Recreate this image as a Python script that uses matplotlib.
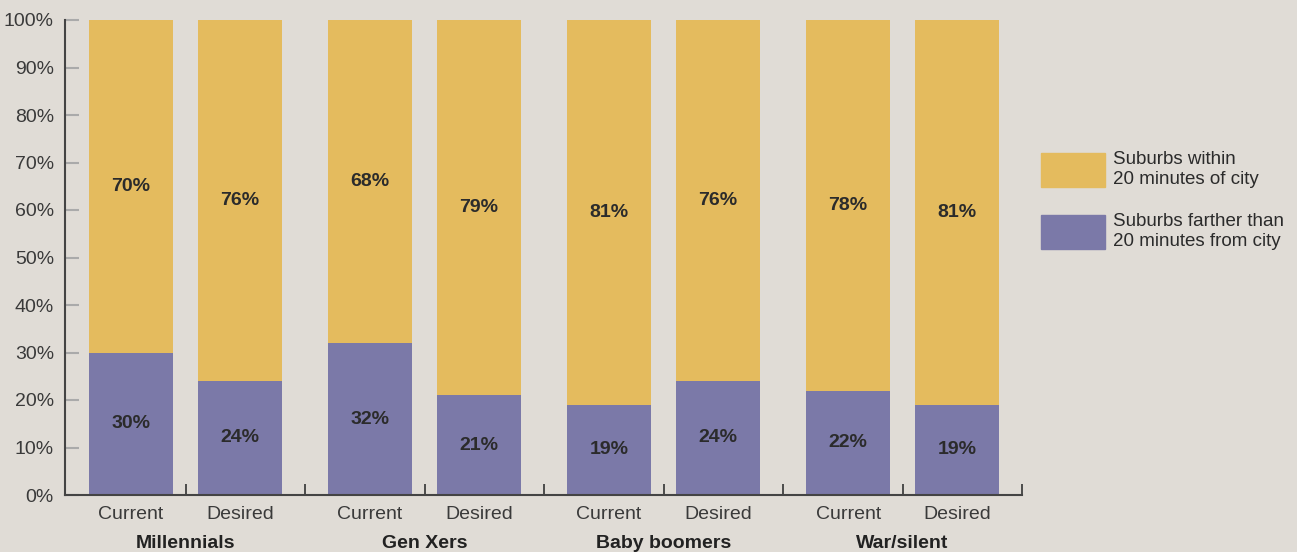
import matplotlib.pyplot as plt
from matplotlib.patches import Patch
import numpy as np

groups = ['Millennials', 'Gen Xers', 'Baby boomers', 'War/silent']
kinds = ['Current', 'Desired']
farther = [30, 24, 32, 21, 19, 24, 22, 19]
within = [70, 76, 68, 79, 81, 76, 78, 81]
legend_labels = ['Suburbs within\n20 minutes of city', 'Suburbs farther than\n20 minutes from city']

BG = '#e0dcd6'
GOLD = '#e4bb5e'
PURPLE = '#7b79a8'
TXT = '#2b2b2b'
sans = ['Liberation Sans', 'DejaVu Sans']

fig = plt.figure(figsize=(12.97, 5.52), dpi=100, facecolor=BG)
ax = fig.add_axes([65/1297, 57/552, (1022-65)/1297, 475/552])
ax.set_facecolor(BG)

gap = 2.193
x = []
for g in range(len(groups)):
    x += [g*gap, g*gap + 1]
x = np.array(x)
w = 0.77

ax.bar(x, farther, w, color=PURPLE)
ax.bar(x, within, w, bottom=farther, color=GOLD)

for xi, f, wv in zip(x, farther, within):
    ax.text(xi, f/2, f'{f}%', ha='center', va='center', fontsize=14,
            fontweight='bold', color=TXT, family=sans)
    ax.text(xi, f + wv/2, f'{wv}%', ha='center', va='center', fontsize=14,
            fontweight='bold', color=TXT, family=sans)

ax.set_xlim(-0.606, 8.174)
ax.set_ylim(0, 100)
ax.set_yticks(range(0, 101, 10))
ax.set_yticklabels([f'{v}%' for v in range(0, 101, 10)], fontsize=14,
                   color='#3a3a3a', family=sans)
ax.tick_params(axis='y', direction='in', length=10, width=1.5, color='#aaaaaa', pad=8)

# tick marks between bars + right end
seps = list((x[:-1] + x[1:]) / 2) + [8.174]
ax.set_xticks(seps)
ax.set_xticklabels([])
ax.tick_params(axis='x', direction='in', length=8, width=1.2, color='#333333')

for xi, k in zip(x, kinds*4):
    ax.text(xi, -2.3, k, ha='center', va='top', fontsize=14, color='#3a3a3a',
            family=sans)
for g, name in enumerate(groups):
    ax.text(g*gap + 0.5, -8.4, name, ha='center', va='top', fontsize=14,
            fontweight='bold', color='#222222', family=sans)

for s in ['top', 'right']:
    ax.spines[s].set_visible(False)
for s in ['left', 'bottom']:
    ax.spines[s].set_color('#444444')
    ax.spines[s].set_linewidth(1.5)

handles = [Patch(color=GOLD), Patch(color=PURPLE)]
fig.legend(handles, legend_labels, loc='upper left', bbox_to_anchor=(1041/1297, 1 - 151/552),
           frameon=False, borderpad=0, borderaxespad=0, handlelength=3.4,
           handleheight=2.45, handletextpad=0.45, labelspacing=1.35,
           prop={'family': sans, 'size': 13.5}, labelcolor=TXT)

fig.savefig('out.png', dpi=100, facecolor=BG)
